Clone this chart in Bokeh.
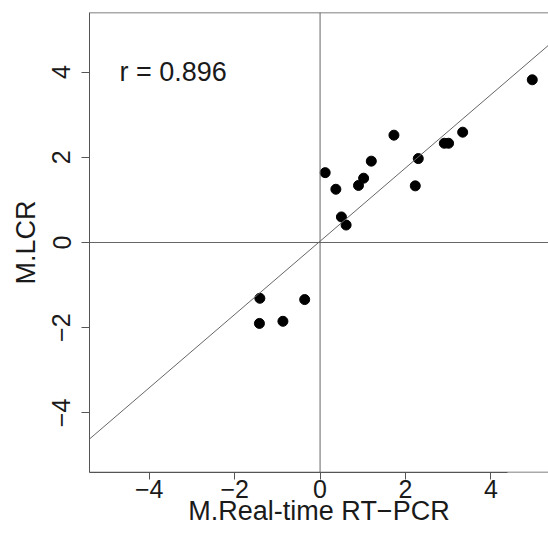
import math
from bokeh.plotting import figure
from bokeh.models import FixedTicker, Span, Slope, Label
from bokeh.embed import file_html
from bokeh.resources import INLINE

# data
x_vals = [4.97, 1.73, 3.34, 2.91, 3.01, 1.20, 2.30, 0.12, 0.37, 1.02, 0.90, 2.23, 0.50, 0.61, -1.41, -1.42, -0.87, -0.36]
y_vals = [3.82, 2.52, 2.59, 2.33, 2.33, 1.91, 1.97, 1.64, 1.25, 1.51, 1.34, 1.33, 0.60, 0.41, -1.31, -1.90, -1.85, -1.34]
fit_slope = 0.86
fit_intercept = 0.03
r_text = "r = 0.896"
tick_values = [-4, -2, 0, 2, 4]
tick_labels = ["\u22124", "\u22122", "0", "2", "4"]
x_title = "M.Real-time RT\u2212PCR"
y_title = "M.LCR"

FONT = "Liberation Sans"
AX = "#555555"
TXT = "#1a1a1a"

X0, X1 = -5.4, 5.35
Y0, Y1 = -5.4, 5.4
X_AXIS_BOUNDS = (-5.4, 4.4)   # centres the x title where the reference has it

p = figure(width=548, height=537, x_range=(X0, X1), y_range=(Y0, Y1),
           output_backend="svg", toolbar_location=None,
           min_border_left=89, min_border_right=0, min_border_top=12, min_border_bottom=65)
p.outline_line_color = None
p.xgrid.visible = False
p.ygrid.visible = False
p.background_fill_color = "white"
p.border_fill_color = "white"

overrides = {v: s for v, s in zip(tick_values, tick_labels)}
for ax in (p.xaxis[0], p.yaxis[0]):
    ax.ticker = FixedTicker(ticks=tick_values)
    ax.major_label_overrides = overrides
    ax.minor_tick_line_color = None
    ax.axis_line_color = AX
    ax.major_tick_line_color = AX
    ax.major_tick_in = 0
    ax.major_label_text_font = FONT
    ax.major_label_text_font_size = "25px"
    ax.major_label_text_color = TXT
    ax.axis_label_text_font = FONT
    ax.axis_label_text_font_size = "27px"
    ax.axis_label_text_font_style = "normal"
    ax.axis_label_text_color = TXT

p.xaxis.axis_label = x_title
p.yaxis.axis_label = y_title
p.xaxis.bounds = X_AXIS_BOUNDS
p.xaxis.major_tick_out = 7
p.yaxis.major_tick_out = 8
p.xaxis.major_label_standoff = 0
p.xaxis.axis_label_standoff = -5
p.yaxis.major_label_standoff = 11
p.yaxis.axis_label_standoff = 9
p.yaxis.major_label_orientation = "parallel"

# frame lines: top and bottom (bottom completes the shortened axis line)
p.add_layout(Span(location=Y1, dimension="width", line_color=AX, line_width=1.5))
p.add_layout(Span(location=Y0, dimension="width", line_color=AX, line_width=1.5))
# zero lines
p.add_layout(Span(location=0, dimension="width", line_color="#666666", line_width=1))
p.add_layout(Span(location=0, dimension="height", line_color="#666666", line_width=1))
# regression line
p.add_layout(Slope(gradient=fit_slope, y_intercept=fit_intercept, line_color="#666666", line_width=1))

p.scatter(x_vals, y_vals, size=10, color="black")

p.add_layout(Label(x=-3.44, y=4.0, text=r_text, text_align="center", text_baseline="middle",
                   text_font=FONT, text_font_size="27px", text_color=TXT))

open("out.html", "w").write(file_html(p, INLINE))
